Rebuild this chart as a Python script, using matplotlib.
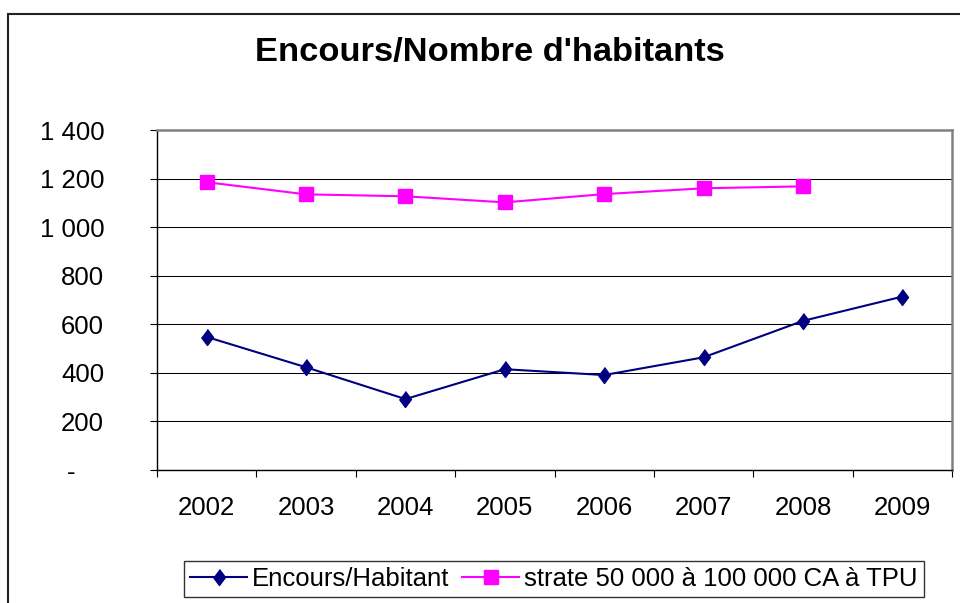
import matplotlib
matplotlib.use("Agg")
import matplotlib.pyplot as plt
from matplotlib.patches import Rectangle
from matplotlib.ticker import FuncFormatter, FixedLocator

plt.rcParams['font.family'] = ['Liberation Sans', 'DejaVu Sans']

# donnees
annees = ['2002', '2003', '2004', '2005', '2006', '2007', '2008', '2009']
encours_hab = [548, 423, 292, 415, 391, 464, 614, 714]
strate = [1185, 1135, 1127, 1102, 1136, 1160, 1168]
nom_encours = 'Encours/Habitant'
nom_strate = 'strate 50 000 à 100 000 CA à TPU'
titre = "Encours/Nombre d'habitants"

fig = plt.figure(figsize=(9.6, 6.03), dpi=100)
ax = fig.add_axes([157/960, 133/603, 795/960, 340/603])

# cadre exterieur du graphique
fig.patches.append(Rectangle((8/960, -0.2), 1.2, 1.2 - 14/603,
                             transform=fig.transFigure, fill=False,
                             edgecolor='#222222', linewidth=1.5))

diamant = [(0, 1), (0.75, 0), (0, -1), (-0.75, 0)]
x1 = list(range(len(encours_hab)))
x2 = list(range(len(strate)))
ax.plot(x1, encours_hab, color='#000080', linewidth=1.5, marker=diamant,
        markersize=11.5, label=nom_encours, zorder=3)
ax.plot(x2, strate, color='#FF00FF', linewidth=1.5, marker='s',
        markersize=10, label=nom_strate, zorder=3)

ax.set_xlim(-0.5, len(annees) - 0.5)
ax.set_ylim(0, 1400)
ax.set_yticks(range(0, 1401, 200))

def fmt(v, pos):
    if v == 0:
        return '-    '
    return '{:,.0f}'.format(v).replace(',', ' ')

ax.yaxis.set_major_formatter(FuncFormatter(fmt))
ax.set_xticks(x1)
ax.set_xticklabels(annees)
ax.xaxis.set_minor_locator(FixedLocator([i - 0.5 for i in range(len(annees) + 1)]))

ax.tick_params(axis='y', direction='out', length=5, width=0.8, pad=33,
               labelsize=18.5, colors='black')
ax.tick_params(axis='x', which='major', length=0, pad=19, labelsize=18.5)
ax.tick_params(axis='x', which='minor', direction='out', length=5, width=0.8)

ax.grid(axis='y', color='black', linewidth=0.75)
ax.set_axisbelow(True)
for s in ['top', 'right']:
    ax.spines[s].set_color('#808080')
    ax.spines[s].set_linewidth(1.8)
for s in ['left', 'bottom']:
    ax.spines[s].set_color('black')
    ax.spines[s].set_linewidth(1.0)

fig.text(490/960, 1 - 53/603, titre, ha='center', va='center',
         fontsize=24.8, fontweight='bold')

leg = fig.legend(loc='center', bbox_to_anchor=(554/960, 1 - 579/603), ncol=2,
                 fontsize=18.5, frameon=True, fancybox=False, edgecolor='black',
                 handlelength=2.2, handletextpad=0.2, columnspacing=0.5,
                 borderpad=0.25, borderaxespad=0)
leg.get_frame().set_linewidth(1.0)

fig.savefig('out.png', dpi=100)
